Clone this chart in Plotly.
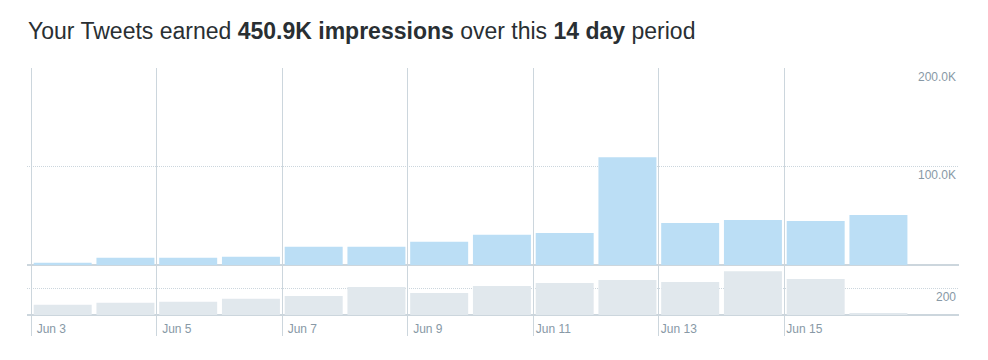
import plotly.graph_objects as go

# ---- data ----
days = ["2016-06-03", "2016-06-04", "2016-06-05", "2016-06-06", "2016-06-07",
        "2016-06-08", "2016-06-09", "2016-06-10", "2016-06-11", "2016-06-12",
        "2016-06-13", "2016-06-14", "2016-06-15", "2016-06-16"]
impressions = [2300, 7400, 7400, 8400, 18500, 18500, 23500, 30600, 32600,
               109400, 42700, 45800, 44700, 50800]
engagements = [76, 91, 99, 121, 143, 210, 165, 217, 239, 262, 247, 328, 269, 10]
tick_dates = ["2016-06-03", "2016-06-05", "2016-06-07", "2016-06-09",
              "2016-06-11", "2016-06-13", "2016-06-15"]
tick_labels = ["Jun 3", "Jun 5", "Jun 7", "Jun 9", "Jun 11", "Jun 13", "Jun 15"]
imp_ticks = [100000, 200000]
imp_tick_labels = ["100.0K", "200.0K"]
eng_ticks = [200]
eng_tick_labels = ["200"]

bar_x = [d + " 12:00" for d in days]

BLUE = "#bbdef5"
GREY = "#e1e8ed"
GRID = "#ccd6dd"
TICKC = "#8899a6"
FONT = "Liberation Sans, Arial, sans-serif"

fig = go.Figure()
fig.add_trace(go.Bar(x=bar_x, y=impressions, marker=dict(color=BLUE, line=dict(width=0)),
                     xaxis="x", yaxis="y", name="Impressions"))
fig.add_trace(go.Bar(x=bar_x, y=engagements, marker=dict(color=GREY, line=dict(width=0)),
                     xaxis="x2", yaxis="y2", name="Engagements"))

xrange = ["2016-06-02 22:21", "2016-06-17 18:49"]
split = 50 / 247

fig.update_layout(
    width=988, height=360,
    margin=dict(l=27, r=29, t=68, b=45),
    paper_bgcolor="white", plot_bgcolor="white",
    showlegend=False,
    bargap=0.076,
    font=dict(family=FONT, size=12, color=TICKC),
    title=dict(
        text="Your Tweets earned <b>450.9K impressions</b> over this <b>14 day</b> period",
        x=28 / 988, xref="container", xanchor="left",
        y=1 - 31 / 360, yref="container", yanchor="middle",
        font=dict(family=FONT, size=23, color="#292f33"),
    ),
    xaxis=dict(
        domain=[0, 1], anchor="y", type="date", range=xrange,
        tickvals=tick_dates, ticktext=tick_labels, showticklabels=False,
        showgrid=True, gridcolor=GRID, gridwidth=1, ticks="", showline=False,
        zeroline=False,
    ),
    yaxis=dict(
        domain=[split, 1], anchor="x", range=[0, 200000],
        tickvals=imp_ticks, ticktext=imp_tick_labels, side="right",
        ticklabelposition="inside bottom", ticks="",
        showgrid=True, gridcolor=GRID, gridwidth=1, griddash="1px,1px",
        zeroline=True, zerolinecolor=GRID, zerolinewidth=1.5, showline=False,
        tickfont=dict(family=FONT, size=12, color=TICKC),
    ),
    xaxis2=dict(
        domain=[0, 1], anchor="y2", type="date", range=xrange, matches="x",
        tickvals=tick_dates, ticktext=tick_labels, showticklabels=True,
        showgrid=True, gridcolor=GRID, gridwidth=1,
        ticks="outside", ticklen=20, tickwidth=1, tickcolor=GRID,
        ticklabelshift=20, ticklabelstandoff=-17,
        showline=False, zeroline=False,
        tickfont=dict(family=FONT, size=12, color=TICKC),
    ),
    yaxis2=dict(
        domain=[0, split], anchor="x2", range=[0, 374],
        tickvals=eng_ticks, ticktext=eng_tick_labels, side="right",
        ticklabelposition="inside bottom", ticks="",
        showgrid=True, gridcolor=GRID, gridwidth=1, griddash="1px,1px",
        zeroline=True, zerolinecolor=GRID, zerolinewidth=1.5, showline=False,
        tickfont=dict(family=FONT, size=12, color=TICKC),
    ),
)

fig.write_html("out.html")
